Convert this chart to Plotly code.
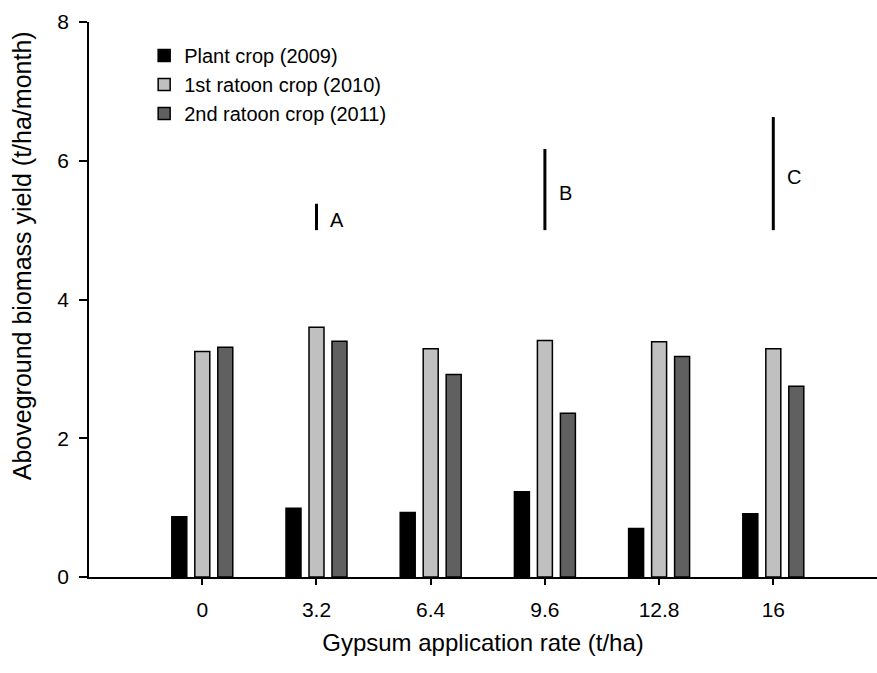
import plotly.graph_objects as go

# ---- data ----
rates = ["0", "3.2", "6.4", "9.6", "12.8", "16"]
plant_2009 = [0.87, 0.99, 0.93, 1.23, 0.70, 0.91]
ratoon1_2010 = [3.25, 3.60, 3.29, 3.41, 3.39, 3.29]
ratoon2_2011 = [3.31, 3.40, 2.92, 2.36, 3.18, 2.75]
series_names = ["Plant crop (2009)", "1st ratoon crop (2010)", "2nd ratoon crop (2011)"]
series_colors = ["#000000", "#c0c0c0", "#606060"]

lsd_x = ["3.2", "9.6", "16"]
lsd_base = 5.0
lsd_top = [5.38, 6.17, 6.63]
lsd_labels = ["A", "B", "C"]

y_ticks = [0, 2, 4, 6, 8]

FONT = "Arial, Liberation Sans, sans-serif"

fig = go.Figure()
for name, vals, col in zip(series_names, [plant_2009, ratoon1_2010, ratoon2_2011], series_colors):
    fig.add_trace(go.Bar(
        x=rates, y=vals, name=name,
        marker=dict(color=col, line=dict(color="black", width=1.5)),
    ))

for xv, top, lab in zip(lsd_x, lsd_top, lsd_labels):
    fig.add_trace(go.Scatter(
        x=[xv, xv], y=[lsd_base, top], mode="lines",
        line=dict(color="black", width=3), showlegend=False, hoverinfo="skip",
    ))
    fig.add_annotation(
        x=rates.index(xv), y=(lsd_base + top) / 2, text=lab, showarrow=False,
        xref="x", yref="y",
        xshift=21, yshift=-3, font=dict(family=FONT, size=20, color="black"),
    )

# y-axis title (placed as rotated text, as in the original figure)
fig.add_annotation(
    text="Aboveground biomass yield (t/ha/month)", textangle=-90,
    xref="paper", yref="paper", x=-0.085, y=0.578,
    xanchor="center", yanchor="middle", showarrow=False,
    font=dict(family=FONT, size=25, color="black"),
)

fig.update_layout(
    width=877, height=673,
    margin=dict(l=89, r=0, t=22, b=96),
    paper_bgcolor="white", plot_bgcolor="white",
    barmode="group", bargap=0.396, bargroupgap=0.348,
    font=dict(family=FONT, color="black"),
    showlegend=True,
    legend=dict(
        x=0.07, y=0.975, xanchor="left", yanchor="top",
        font=dict(family=FONT, size=20, color="black"),
        bgcolor="rgba(0,0,0,0)", traceorder="normal",
    ),
    xaxis=dict(
        type="category", range=[-0.992, 5.908],
        showline=True, linecolor="black", linewidth=1.5,
        ticks="outside", ticklen=6, tickwidth=1.5, tickcolor="black",
        tickfont=dict(family=FONT, size=21), ticklabelstandoff=7,
        showgrid=False, zeroline=False,
        title=dict(text="Gypsum application rate (t/ha)", font=dict(family=FONT, size=24), standoff=14),
    ),
    yaxis=dict(
        range=[0, 8], tickvals=y_ticks,
        showline=True, linecolor="black", linewidth=1.5,
        ticks="outside", ticklen=8, tickwidth=1.5, tickcolor="black",
        tickfont=dict(family=FONT, size=21), ticklabelstandoff=6,
        showgrid=False, zeroline=False,
    ),
    hovermode=False,
)

fig.write_html("out.html")
